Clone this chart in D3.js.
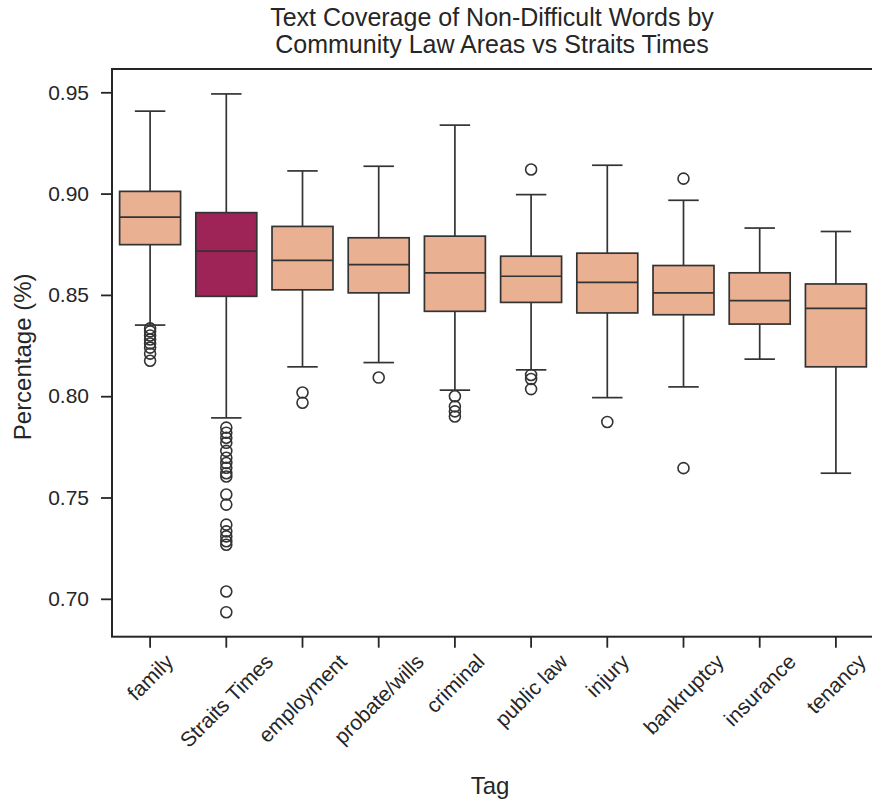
<!DOCTYPE html>
<html lang="en">
<head>
    <meta charset="UTF-8">
    <title>Text Coverage Boxplot</title>
    <script src="https://cdn.jsdelivr.net/npm/d3@7"></script>
    <style>
        body { margin: 0; background: #fff; }
        svg { font-family: "Liberation Sans", Arial, sans-serif; }
        .axis text { font-size: 21px; fill: #262626; }
        .axis path, .axis line { stroke: #262626; stroke-width: 1.8px; }
        .box-line { stroke: #333; stroke-width: 1.7px; }
        .flier { fill: none; stroke: #333; stroke-width: 1.6px; }
        .label { font-size: 24px; fill: #262626; }
        .title { font-size: 25px; fill: #262626; }
    </style>
</head>
<body>
    <svg width="872" height="801"></svg>
    <script>
        // Box statistics
        const categories = ["family", "Straits Times", "employment", "probate/wills", "criminal",
                            "public law", "injury", "bankruptcy", "insurance", "tenancy"];
        const whiskerHigh = [0.9407, 0.9492, 0.9112, 0.9135, 0.9338, 0.8995, 0.9140, 0.8967, 0.8830, 0.8813];
        const q3          = [0.9011, 0.8906, 0.8838, 0.8782, 0.8790, 0.8691, 0.8706, 0.8645, 0.8609, 0.8554];
        const median      = [0.8884, 0.8716, 0.8670, 0.8649, 0.8609, 0.8592, 0.8562, 0.8510, 0.8472, 0.8434];
        const q1          = [0.8748, 0.8493, 0.8525, 0.8510, 0.8419, 0.8463, 0.8411, 0.8402, 0.8356, 0.8145];
        const whiskerLow  = [0.8351, 0.7893, 0.8145, 0.8166, 0.8030, 0.8130, 0.7993, 0.8046, 0.8183, 0.7620];
        const outliers = [
            [0.8335, 0.8320, 0.8300, 0.8280, 0.8260, 0.8240, 0.8210, 0.8175],
            [0.7845, 0.7820, 0.7795, 0.7770, 0.7730, 0.7696, 0.7670, 0.7647, 0.7620, 0.7604,
             0.7515, 0.7465, 0.7366, 0.7333, 0.7308, 0.7284, 0.7267, 0.7036, 0.6934],
            [0.8018, 0.7968],
            [0.8092],
            [0.8000, 0.7950, 0.7925, 0.7900],
            [0.9119, 0.8105, 0.8085, 0.8035],
            [0.7873],
            [0.9074, 0.7645],
            [],
            []
        ];
        const yTicks = [0.70, 0.75, 0.80, 0.85, 0.90, 0.95];
        const colors = categories.map(c => c === "Straits Times" ? "#9e2457" : "#e9b092");

        const svg = d3.select("svg"),
            margin = { top: 69, left: 112 },
            width = 762,
            height = 567.7,
            g = svg.append("g").attr("transform", "translate(" + margin.left + "," + margin.top + ")");

        const x = d3.scaleBand()
            .domain(categories)
            .range([0, width])
            .paddingInner(0.2)
            .paddingOuter(0.1);

        const y = d3.scaleLinear()
            .domain([0.6813, 0.9615])
            .range([height, 0]);

        const bw = x.bandwidth();
        const cx = i => x(categories[i]) + bw / 2;

        // boxes, whiskers, fliers
        categories.forEach((c, i) => {
            const bg = g.append("g");
            bg.append("line").attr("class", "box-line")
                .attr("x1", cx(i)).attr("x2", cx(i))
                .attr("y1", y(q3[i])).attr("y2", y(whiskerHigh[i]));
            bg.append("line").attr("class", "box-line")
                .attr("x1", cx(i)).attr("x2", cx(i))
                .attr("y1", y(q1[i])).attr("y2", y(whiskerLow[i]));
            [whiskerHigh[i], whiskerLow[i]].forEach(v => {
                bg.append("line").attr("class", "box-line")
                    .attr("x1", cx(i) - bw / 4).attr("x2", cx(i) + bw / 4)
                    .attr("y1", y(v)).attr("y2", y(v));
            });
            bg.append("rect").attr("class", "box-line")
                .attr("x", x(c)).attr("width", bw)
                .attr("y", y(q3[i])).attr("height", y(q1[i]) - y(q3[i]))
                .attr("fill", colors[i]);
            bg.append("line").attr("class", "box-line")
                .attr("x1", x(c)).attr("x2", x(c) + bw)
                .attr("y1", y(median[i])).attr("y2", y(median[i]));
            bg.selectAll("circle")
                .data(outliers[i])
                .join("circle")
                .attr("class", "flier")
                .attr("cx", cx(i))
                .attr("cy", d => y(d))
                .attr("r", 5.5);
        });

        // x axis: labels rotated 45deg, bounding box centred under the tick
        const xAxis = g.append("g")
            .attr("class", "axis")
            .attr("transform", "translate(0," + height + ")")
            .call(d3.axisBottom(x).tickSize(11))
            .call(a => a.select(".domain").remove());
        xAxis.selectAll(".tick text").each(function () {
            const t = d3.select(this);
            const w = this.getComputedTextLength();
            const h = 17;
            const half = (w + h) / Math.SQRT2 / 2;
            const cy = 11 + 4 + half;
            t.attr("y", null).attr("dy", null)
                .attr("text-anchor", "middle")
                .attr("dominant-baseline", "central")
                .attr("transform", "translate(0," + cy + ")rotate(-45)");
        });

        g.append("g")
            .attr("class", "axis")
            .call(d3.axisLeft(y).tickValues(yTicks).tickFormat(d3.format(".2f")).tickSize(11).tickPadding(12))
            .call(a => a.select(".domain").remove());

        // frame
        g.append("rect")
            .attr("width", width).attr("height", height)
            .attr("fill", "none")
            .attr("stroke", "#262626")
            .attr("stroke-width", 2);

        // titles
        svg.append("text")
            .attr("class", "title")
            .attr("x", margin.left + width / 2 - 1)
            .attr("y", 26)
            .attr("text-anchor", "middle")
            .text("Text Coverage of Non-Difficult Words by");
        svg.append("text")
            .attr("class", "title")
            .attr("x", margin.left + width / 2 - 1)
            .attr("y", 53)
            .attr("text-anchor", "middle")
            .text("Community Law Areas vs Straits Times");

        svg.append("text")
            .attr("class", "label")
            .attr("x", margin.left + width / 2 - 3)
            .attr("y", 794)
            .attr("text-anchor", "middle")
            .text("Tag");

        svg.append("text")
            .attr("class", "label")
            .attr("transform", "translate(31," + (margin.top + height / 2 + 4) + ")rotate(-90)")
            .attr("text-anchor", "middle")
            .text("Percentage (%)");
    </script>
</body>
</html>
